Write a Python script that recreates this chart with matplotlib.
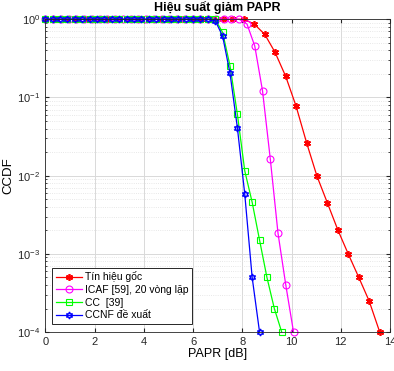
import numpy as np
import matplotlib
matplotlib.use('Agg')
import matplotlib.pyplot as plt

plt.rcParams['font.family'] = ['Liberation Sans', 'DejaVu Sans']
plt.rcParams['mathtext.fontset'] = 'custom'
plt.rcParams['mathtext.rm'] = 'Liberation Sans'
plt.rcParams['mathtext.it'] = 'Liberation Sans:italic'

#########################################################
# data
red_x = [0, 0.42, 0.85, 1.27, 1.70, 2.12, 2.55, 2.97, 3.39, 3.82, 4.24, 4.67, 5.09,
         5.52, 5.94, 6.36, 6.79, 7.21, 7.64, 8.06, 8.48, 8.91, 9.33, 9.76, 10.18,
         10.61, 11.03, 11.45, 11.88, 12.30, 12.73, 13.15, 13.58]
red_y = [1.0] * 20 + [0.87, 0.643, 0.378, 0.187, 0.078, 0.0264, 0.0099, 0.00452,
                      0.00202, 0.001, 5.0e-4, 2.5e-4, 1.0e-4]

mag_x = [0, 0.315, 0.63, 0.945, 1.26, 1.575, 1.89, 2.205, 2.52, 2.835, 3.15, 3.465,
         3.78, 4.095, 4.41, 4.725, 5.04, 5.355, 5.67, 5.985, 6.3, 6.615, 6.93, 7.245,
         7.56, 7.875, 8.19, 8.505, 8.82, 9.135, 9.45, 9.765, 10.08]
mag_y = [1.0] * 26 + [0.87, 0.456, 0.122, 0.0165, 0.00183, 4.0e-4, 1.0e-4]

grn_x = [0, 0.3, 0.6, 0.9, 1.2, 1.5, 1.8, 2.1, 2.4, 2.7, 3.0, 3.3, 3.6, 3.9, 4.2,
         4.5, 4.8, 5.1, 5.4, 5.7, 6.0, 6.3, 6.6, 6.9, 7.2, 7.5, 7.8, 8.1, 8.4, 8.7,
         9.0, 9.3, 9.6]
grn_y = [1.0] * 24 + [0.68, 0.255, 0.061, 0.0115, 0.00457, 0.0015, 5.0e-4, 2.0e-4, 1.0e-4]

blu_x = [0, 0.3, 0.6, 0.9, 1.2, 1.5, 1.8, 2.1, 2.4, 2.7, 3.0, 3.3, 3.6, 3.9, 4.2,
         4.5, 4.8, 5.1, 5.4, 5.7, 6.0, 6.3, 6.6, 6.9, 7.2, 7.5, 7.8, 8.1, 8.4, 8.7]
blu_y = [1.0] * 23 + [0.96, 0.61, 0.204, 0.041, 0.00578, 5.0e-4, 1.0e-4]

labels = ['Tín hiệu gốc', 'ICAF [59], 20 vòng lặp', 'CC  [39]', 'CCNF đề xuất']
#########################################################

fig = plt.figure(figsize=(3.94, 3.71), dpi=100)
ax = fig.add_axes([0.115, 0.105, 0.875, 0.843])

ax.semilogy(red_x, red_y, color='r', lw=0.9, marker=(6, 2, 0), ms=5, mew=1.2, label=labels[0], clip_on=False)
ax.semilogy(mag_x, mag_y, color='#ff00ff', lw=0.9, marker='o', ms=5, mfc='none', mew=0.8, label=labels[1], clip_on=False)
ax.semilogy(grn_x, grn_y, color='#00ff00', lw=0.9, marker='s', ms=4, mfc='none', mew=0.8, label=labels[2], clip_on=False)
ax.semilogy(blu_x, blu_y, color='b', lw=0.9, marker=(6, 1, 0), ms=5, mfc='none', mew=1.0, label=labels[3], clip_on=False)

ax.set_xlim(0, 14)
ax.set_ylim(1e-4, 1)
ax.set_xticks(np.arange(0, 15, 2))
ax.grid(True, which='major', color='#d9d9d9', lw=0.7, ls='-')
ax.grid(True, which='minor', axis='y', color='#e0e0e0', lw=0.6, ls=':')
ax.set_axisbelow(True)
ax.tick_params(which='both', direction='in', top=True, right=True, labelsize=8, colors='#262626')
ax.tick_params(which='major', length=3)
ax.tick_params(which='minor', length=1.5)
for s in ax.spines.values():
    s.set_color('#262626')
    s.set_linewidth(0.6)

ax.set_title('Hiệu suất giảm PAPR', fontsize=9, fontweight='bold', pad=6)
ax.set_xlabel('PAPR [dB]', fontsize=9, labelpad=1)
ax.set_ylabel('CCDF', fontsize=9.5, labelpad=2)

leg = ax.legend(loc='lower left', bbox_to_anchor=(0.019, 0.026), borderaxespad=0,
                fontsize=7.5, fancybox=False, edgecolor='#262626', framealpha=1,
                handlelength=2.5, labelspacing=0.25, borderpad=0.35, handletextpad=0.3)
leg.get_frame().set_linewidth(0.7)

plt.savefig('out.png', dpi=100)
